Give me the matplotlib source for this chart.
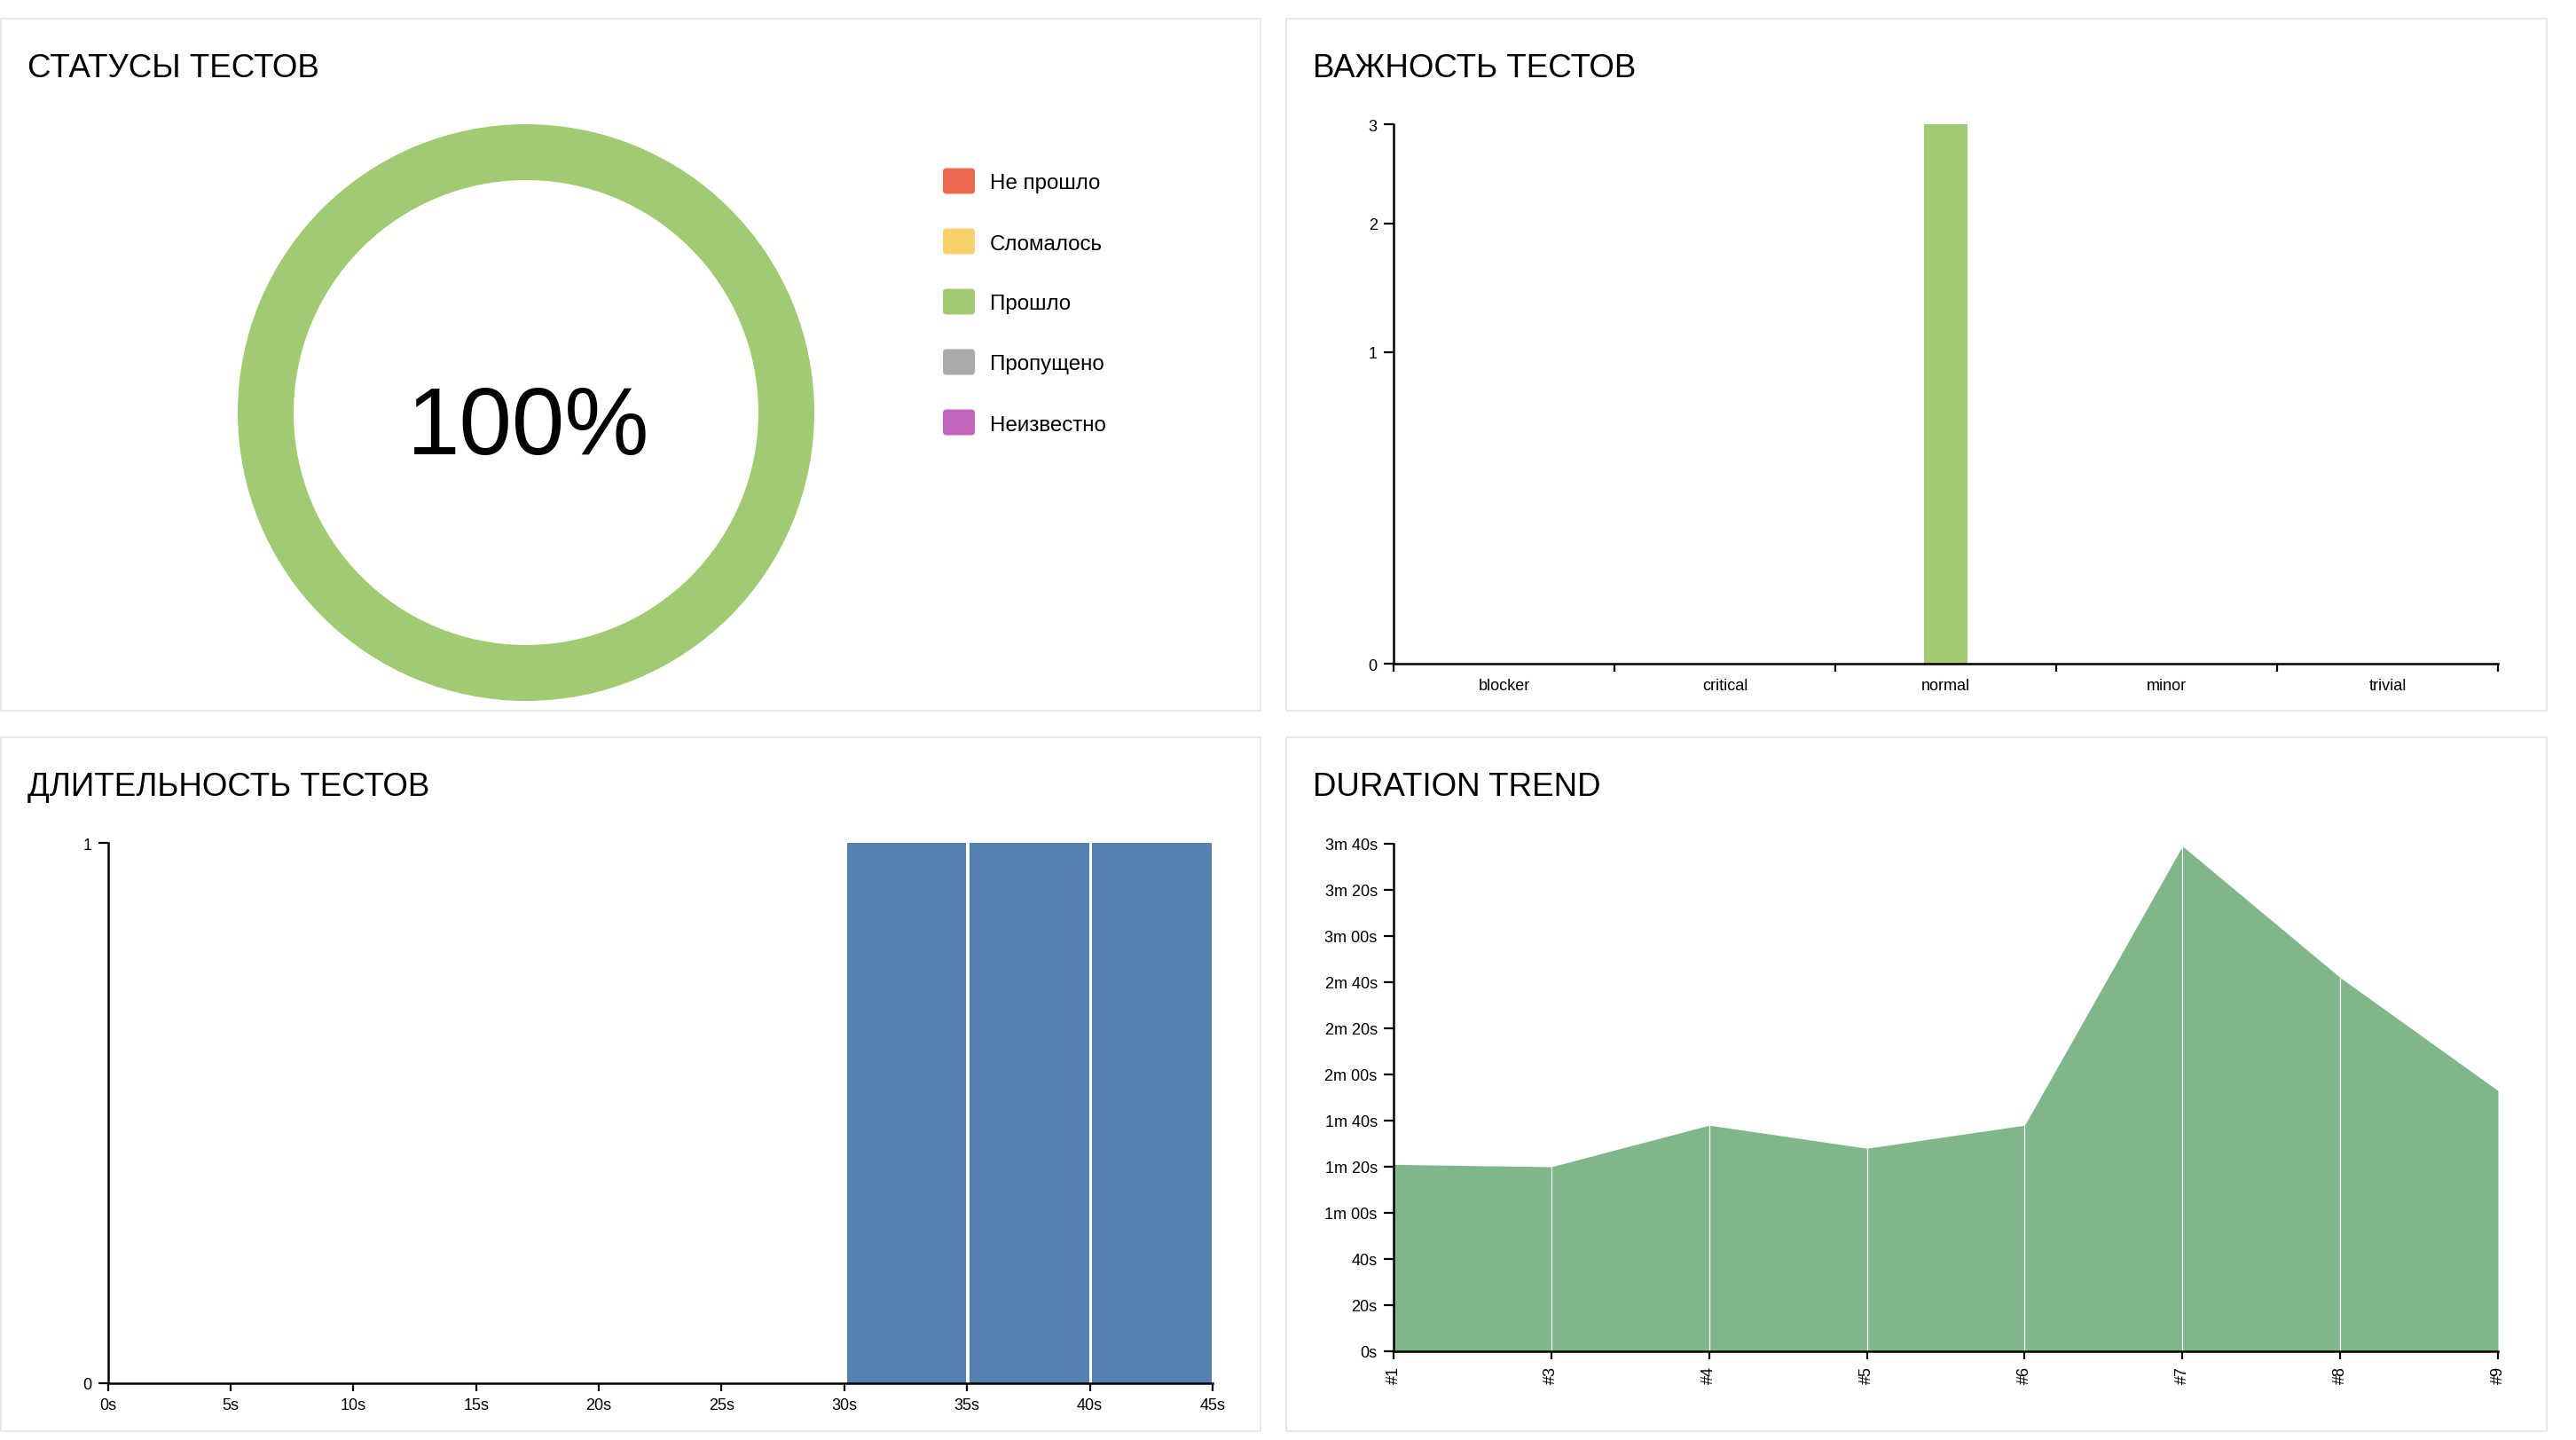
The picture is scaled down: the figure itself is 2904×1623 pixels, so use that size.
import numpy as np
import matplotlib
matplotlib.use("Agg")
import matplotlib.pyplot as plt
from matplotlib.patches import Rectangle, FancyBboxPatch
from matplotlib.ticker import FuncFormatter

plt.rcParams['font.family'] = ['Liberation Sans', 'DejaVu Sans']

# ---------------- data ----------------
status_labels = ["Не прошло", "Сломалось", "Прошло", "Пропущено", "Неизвестно"]
status_values = [0, 0, 3, 0, 0]
status_colors = ["#EC684E", "#F7D06A", "#A2CA72", "#AAAAAA", "#C465BC"]

severity_cats = ["blocker", "critical", "normal", "minor", "trivial"]
severity_values = [0, 0, 3, 0, 0]

duration_bin_left = [30, 35, 40]
duration_bin_right = [35, 40, 45]
duration_counts = [1, 1, 1]
duration_ticks = [0, 5, 10, 15, 20, 25, 30, 35, 40, 45]

trend_labels = ["#1", "#3", "#4", "#5", "#6", "#7", "#8", "#9"]
trend_seconds = [81, 80, 98, 88, 98, 219, 162, 113]
trend_yticks = list(range(0, 221, 20))

titles = ["СТАТУСЫ ТЕСТОВ", "ВАЖНОСТЬ ТЕСТОВ", "ДЛИТЕЛЬНОСТЬ ТЕСТОВ", "DURATION TREND"]

# ---------------- layout ----------------
W, H = 2904, 1624
DPI = 200
fig = plt.figure(figsize=(W / DPI, H / DPI), dpi=DPI, facecolor="white")


def rect(x0, y0, x1, y1):
    return [x0 / W, 1 - y1 / H, (x1 - x0) / W, (y1 - y0) / H]


bg = fig.add_axes([0, 0, 1, 1], zorder=0)
bg.set_xlim(0, W)
bg.set_ylim(H, 0)
bg.axis("off")

panels = [(1, 22, 1421, 802), (1450, 22, 2871, 802),
          (1, 832, 1421, 1614), (1450, 832, 2871, 1614)]
for (x0, y0, x1, y1), t in zip(panels, titles):
    bg.add_patch(Rectangle((x0, y0), x1 - x0, y1 - y0, fill=False,
                           edgecolor="#e3e3e3", lw=0.6))
    bg.text(x0 + 30, y0 + 65, t, fontsize=13.2, color="black",
            ha="left", va="baseline")

# legend of status panel
for i, (lab, col) in enumerate(zip(status_labels, status_colors)):
    yc = 205 + i * 68
    bg.add_patch(FancyBboxPatch((1063, yc - 14.5), 36, 29,
                                boxstyle="round,pad=0,rounding_size=4",
                                facecolor=col, edgecolor="none"))
    bg.text(1116, yc + 8.5, lab, fontsize=8.7, color="black",
            ha="left", va="baseline")

# ---------------- status donut ----------------
axd = fig.add_axes(rect(268, 141, 918, 791), zorder=1)
axd.pie(status_values, colors=status_colors, radius=1, startangle=90,
        counterclock=False,
        wedgeprops=dict(width=63 / 325, linewidth=0, edgecolor="none"))
axd.set_xlim(-1, 1)
axd.set_ylim(-1, 1)
axd.set_aspect("equal")
axd.axis("off")
total = sum(status_values)
pct = round(100 * status_values[2] / total)
bg.text(596, 512, f"{pct}%", fontsize=38.5, color="black",
        ha="center", va="baseline")


def style_axes(ax, xlen=3.3, ylen=4.0):
    ax.set_facecolor("none")
    for s in ["top", "right"]:
        ax.spines[s].set_visible(False)
    for s in ["left", "bottom"]:
        ax.spines[s].set_linewidth(0.9)
        ax.spines[s].set_color("black")
    ax.tick_params(axis="x", which="major", length=xlen, width=0.8,
                   pad=2.5, labelsize=6.5, color="black")
    ax.tick_params(axis="y", which="major", length=ylen, width=0.8,
                   pad=2.6, labelsize=6.5, color="black")


# ---------------- severity ----------------
axs = fig.add_axes(rect(1571, 141, 2816, 749), zorder=1)
xs = np.arange(len(severity_cats))
axs.bar(xs, severity_values, width=0.2, color="#A2CA72", linewidth=0)
axs.set_yscale("function", functions=(lambda v: np.sqrt(np.maximum(v, 0)),
                                       lambda v: np.square(v)))
axs.set_ylim(0, 3)
axs.set_xlim(-0.5, len(severity_cats) - 0.5)
axs.set_yticks([0, 1, 2, 3])
axs.set_yticklabels(["0", "1", "2", "3"])
axs.set_xticks(np.arange(-0.5, len(severity_cats)), labels=[""] * (len(severity_cats) + 1))
axs.set_xticks(xs, labels=severity_cats, minor=True)
style_axes(axs)
axs.tick_params(axis="x", which="minor", length=0, pad=5.7, labelsize=6.5)

# ---------------- duration histogram ----------------
axh = fig.add_axes(rect(121.5, 951, 1367, 1560), zorder=1)
left_off, gap = 0.1, 0.14
for l, r, c in zip(duration_bin_left, duration_bin_right, duration_counts):
    axh.bar(l + left_off, c, width=(r - l) - gap, align="edge",
            color="#5481B0", linewidth=0)
axh.set_xlim(0, 45)
axh.set_ylim(0, 1)
axh.set_xticks(duration_ticks, labels=[f"{v}s" for v in duration_ticks])
axh.set_yticks([0, 1])
axh.set_yticklabels(["0", "1"])
style_axes(axh)

# ---------------- duration trend ----------------
axt = fig.add_axes(rect(1571, 952, 2816, 1524), zorder=1)
xt = np.arange(len(trend_labels))
axt.fill_between(xt, trend_seconds, 0, color="#80B78A", linewidth=0)
axt.vlines(xt[1:-1], 0, trend_seconds[1:-1], colors="white", linewidth=0.45)
axt.set_xlim(0, len(trend_labels) - 1)
axt.set_ylim(0, 220)
axt.set_yticks(trend_yticks)


def fmt_dur(v, pos=None):
    v = int(round(v))
    if v < 60:
        return f"{v}s"
    return f"{v // 60}m {v % 60:02d}s"


axt.yaxis.set_major_formatter(FuncFormatter(fmt_dur))
axt.set_xticks(xt, labels=trend_labels, rotation=90)
style_axes(axt)

fig.savefig("out.png", dpi=DPI, facecolor="white")
